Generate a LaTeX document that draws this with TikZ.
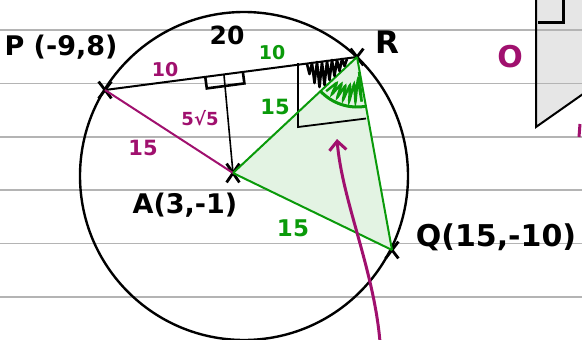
\documentclass[tikz,border=0pt]{standalone}
\usepackage{fontspec}
\setmainfont{DejaVu Sans}
\usetikzlibrary{calc,arrows.meta,shapes.misc}
\definecolor{mag}{HTML}{A0106E}
\definecolor{grn}{HTML}{0A9A0A}
\definecolor{gfill}{HTML}{E3F3E3}
\definecolor{rule}{HTML}{B4B4B4}
\definecolor{pgray}{HTML}{E6E6E6}
\tikzset{
  xmark/.style={cross out, draw=black, line width=2.8pt, minimum width=10pt, minimum height=14pt, inner sep=0pt},
  ruled/.style={draw=rule, line width=1.5pt},
  blk/.style={draw=black, line width=2pt},
  magline/.style={draw=mag, line width=2pt},
  grnline/.style={draw=grn, line width=2pt},
  lbl/.style={inner sep=0pt, font=\bfseries\fontsize{#1}{#1}\selectfont},
}
\begin{document}
\begin{tikzpicture}[x=1pt,y=-1pt]
\useasboundingbox (0,0) rectangle (582,340);
% grey shape on the right
\fill[pgray] (536,0) -- (536,127) -- (582,95) -- (582,0) -- cycle;
% ruled lines
\foreach \yy in {30,83.5,137,190,243.5,297} \draw[ruled] (0,\yy) -- (582,\yy);
\draw[black, line width=2pt] (536,0) -- (536,127) -- (583,94);
\draw[black, line width=3pt] (538,22) -- (563,22) -- (563,0);
% circle
\draw[black, line width=2.4pt] (244,176) circle[radius=164];
% points
\node[xmark] (P) at (105,90) {};
\node[xmark] (R) at (357,57) {};
\node[xmark] (Q) at (392,250) {};
\node[xmark, minimum height=16pt] (A) at (233,173) {};
\coordinate (M) at ($(P.center)!0.472!(R.center)$);
% green triangle
\fill[gfill] (A.center) -- (R.center) -- (Q.center) -- cycle;
% chord and perpendicular
\draw[blk] (P.center) -- (R.center);
\draw[black, line width=1.6pt] (M) -- (A.center);
\draw[black, line width=2.6pt] (205.2,76.5) -- (206.8,88.4) -- (244.4,83.4) -- (242.8,71.5);
% box near R
\draw[black, line width=1.8pt] (298,63) -- (298,127) -- (366,118.5);
% radius lines
\draw[magline] (P.center) -- (A.center);
\draw[grnline] (A.center) -- (R.center);
\draw[grnline] (R.center) -- (Q.center);
\draw[grnline] (A.center) -- (Q.center);
% black scribble between chord and RA
\draw[black, line width=2.6pt, line join=round]
  (307,64) -- (309.5,74) -- (312,63) -- (314.5,83) -- (317,62) -- (319.5,87) -- (322,62) -- (324.5,85)
  -- (327,61) -- (329.5,80) -- (332,60) -- (334.5,76) -- (337,60) -- (339.5,71) -- (342,59) -- (344.5,66) -- (347,59);
% green hatched angle between RA and RQ
\draw[grn, line width=3pt] ($(R.center)+(137:50)$) arc[start angle=137, end angle=80, radius=50];
\draw[grn, line width=2.4pt, rounded corners=2pt]
  ($(R.center)+(132:46)$) -- ($(R.center)+(128:32)$) -- ($(R.center)+(124:46)$) -- ($(R.center)+(120:30)$)
  -- ($(R.center)+(116:46)$) -- ($(R.center)+(112:30)$) -- ($(R.center)+(108:46)$) -- ($(R.center)+(104:28)$)
  -- ($(R.center)+(100:46)$) -- ($(R.center)+(96:26)$) -- ($(R.center)+(92:46)$) -- ($(R.center)+(88:22)$)
  -- ($(R.center)+(84:46)$) -- ($(R.center)+(82:15)$);
% magenta arrow
\coordinate (arS) at (380,342);
\coordinate (arE) at (337,139);
\draw[mag, line width=3pt, -{Straight Barb[length=9pt, width=17pt, line width=3pt]}]
  (arS) .. controls (374,270) and (342,200) .. (arE);
% magenta fragment at right edge
\draw[mag, line width=3pt] (580,124) -- (579,137);
% labels
\node[lbl=27] (lP) at (61,47) {P (-9,8)};
\node[lbl=25] (l20) at (227,35) {20};
\node[lbl=19, text=mag] (l10a) at (165,70) {10};
\node[lbl=19, text=grn] (l10b) at (272,53) {10};
\node[lbl=21, text=grn] (l15a) at (275,107) {15};
\node[lbl=18, text=mag] (lroot) at (200,118) {5√5};
\node[lbl=21, text=mag] (l15b) at (143,148) {15};
\node[lbl=27] (lA) at (185,205) {A(3,-1)};
\node[lbl=30] (lQ) at (496,237) {Q(15,-10)};
\node[lbl=23, text=grn] (l15c) at (293,228) {15};
\node[lbl=31] (lR) at (387,42) {R};
\node[lbl=30, text=mag] (lO) at (510,57) {O};
\end{tikzpicture}
\end{document}
